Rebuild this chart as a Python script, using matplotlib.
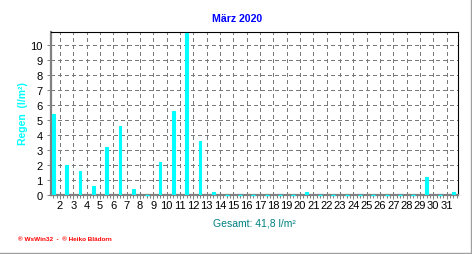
import numpy as np
import matplotlib
matplotlib.use("Agg")
import matplotlib.pyplot as plt
from matplotlib.lines import Line2D
from matplotlib.ticker import FixedLocator, MultipleLocator

plt.rcParams["font.family"] = ["Liberation Sans", "DejaVu Sans"]

# Daily rain, March 2020 (l/m²)
days = list(range(1, 32))
rain = [5.4, 2.0, 1.6, 0.6, 3.2, 4.6, 0.4, 0.0, 2.2, 5.6,
        10.8, 3.6, 0.2, 0.0, 0.0, 0.0, 0.0, 0.0, 0.0, 0.2,
        0.0, 0.0, 0.0, 0.0, 0.0, 0.0, 0.0, 0.0, 1.2, 0.0,
        0.2]
tick_labels = [str(d) for d in range(2, 32)]
y_ticks = list(range(0, 11))

title = "März 2020"
y_label = "Regen  (l/m²)"
total_text = "Gesamt: 41,8 l/m²"
footer = "® WsWin32  -  ® Heiko Blädorn"

W, H = 472, 255
fig = plt.figure(figsize=(W / 100, H / 100), dpi=100)
fig.patch.set_facecolor("white")

# axes box in pixels: x 51..458, y 33..196 (from top)
ax = fig.add_axes([51 / W, 1 - 195.7 / H, 406.7 / W, 162.7 / H])

ax.bar(days, rain, width=0.2, color="#00ffff", edgecolor="#00ffff",
       linewidth=0.8, zorder=3)
# zero days still leave a small cyan dash on the baseline
zero_days = [d for d, v in zip(days, rain) if v == 0]
ax.plot(zero_days, [0] * len(zero_days), linestyle="none", marker="_",
        markersize=2.5, markeredgewidth=1.0, color="#00ffff",
        clip_on=False, zorder=4)

ax.set_xlim(0.83, 31.34)
ax.set_ylim(0, 10.85)

# grid lines sit between days, labelled with the following day
ax.xaxis.set_major_locator(FixedLocator([d - 0.5 for d in range(2, 32)]))
ax.set_xticklabels(tick_labels)
ax.xaxis.set_minor_locator(MultipleLocator(0.25))
ax.set_yticks(y_ticks)

ax.grid(True, which="major", color="#7a7a7a", linestyle=(0, (3, 3.5)),
        linewidth=0.72, antialiased=False, zorder=1)

ax.tick_params(axis="x", which="major", length=3, width=0.7, color="#808080",
               pad=1, labelsize=8)
ax.tick_params(axis="x", which="minor", length=2, width=0.7, color="#808080")
ax.tick_params(axis="y", which="major", length=3, width=0.7, color="#808080",
               pad=3, labelsize=8)

for side in ("left", "bottom"):
    ax.spines[side].set_color("#808080")
    ax.spines[side].set_linewidth(1.6)
for side in ("top", "right"):
    ax.spines[side].set_color("black")
    ax.spines[side].set_linewidth(0.8)

fig.text(237 / W, 1 - 19 / H, title, color="#0000ff", fontsize=7.6,
         fontweight="bold", ha="center", va="center")
fig.text(22.5 / W, 1 - 114 / H, y_label, color="#00ffff", fontsize=7.5,
         fontweight="bold", rotation=90, ha="center", va="center")
fig.text(254.5 / W, 1 - 224 / H, total_text, color="#008080", fontsize=7.5,
         ha="center", va="center")
fig.text(18 / W, 1 - 240 / H, footer, color="#ff0000", fontsize=4.6,
         fontweight="bold", ha="left", va="center")

# grey frame on right and bottom edge of the image
fig.add_artist(Line2D([470.5 / W, 470.5 / W], [1 - 253.5 / H, 1], color="#a0a0a0",
                      linewidth=1.0, transform=fig.transFigure))
fig.add_artist(Line2D([0, 470.5 / W], [1 - 253.5 / H, 1 - 253.5 / H], color="#a0a0a0",
                      linewidth=1.0, transform=fig.transFigure))

fig.savefig("out.png", dpi=100)
